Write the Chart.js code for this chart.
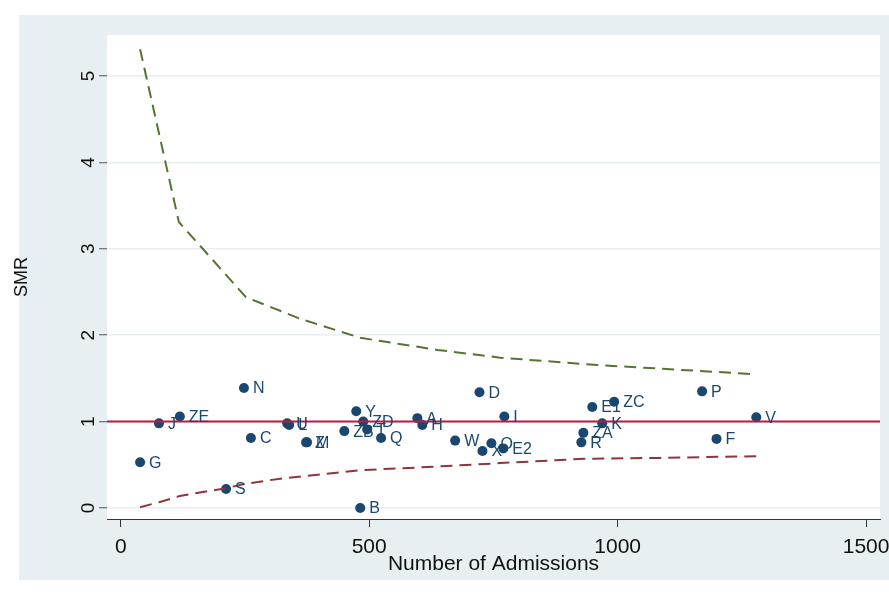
<!DOCTYPE html>
<html>
<head>
<meta charset="utf-8">
<script src="https://cdn.jsdelivr.net/npm/chart.js@4.4.1/dist/chart.umd.min.js"></script>
<style>
  html, body { margin: 0; padding: 0; background: #ffffff; }
  #wrap { width: 889px; height: 592px; }
</style>
</head>
<body>
<div id="wrap"><canvas id="c" width="889" height="592"></canvas></div>
<script>
// ---- data ----
const units = ['G','J','ZE','N','C','S','U','L','M','Z','Y','ZB','ZD','T','Q','B','A','H','W','O','X','E2','D','I','ZA','R','E1','ZC','K','P','F','V'];
const admissions = [39,77,119,248,262,212,335,339,375,373,474,450,488,496,524,482,597,607,673,746,728,770,722,772,931,927,949,993,969,1170,1199,1279];
const smr = [0.53,0.98,1.06,1.39,0.81,0.22,0.98,0.96,0.76,0.76,1.12,0.89,1.00,0.91,0.81,0.00,1.04,0.96,0.78,0.75,0.66,0.69,1.34,1.06,0.87,0.76,1.17,1.23,0.98,1.35,0.80,1.05];

const upperX = [39,117,252,361,482,637,764,945,1273];
const upperY = [5.31,3.31,2.44,2.19,1.97,1.83,1.74,1.66,1.55];

const lowerX = [39,79,119,212,250,321,488,603,764,931,1086,1279];
const lowerY = [0.01,0.07,0.14,0.23,0.28,0.34,0.44,0.47,0.52,0.57,0.58,0.60];

const targetSMR = 1;
const xMin = -27.6, xMax = 1528;
const yMin = -0.127, yMax = 5.474;
const xTicks = [0,500,1000,1500];
const yTicks = [0,1,2,3,4,5];

const xTitle = 'Number of Admissions';
const yTitle = 'SMR';

// ---- build ----
const FONT = '"Liberation Sans", Arial, sans-serif';
const NAVY = '#1a476f';

const pointData = admissions.map((a, i) => ({x: a, y: smr[i]}));
const upperData = upperX.map((a, i) => ({x: a, y: upperY[i]}));
const lowerData = lowerX.map((a, i) => ({x: a, y: lowerY[i]}));
const refData = [{x: xMin, y: targetSMR}, {x: xMax, y: targetSMR}];

const bgPlugin = {
  id: 'bg',
  beforeDraw(chart) {
    const ctx = chart.ctx;
    const a = chart.chartArea;
    ctx.save();
    ctx.fillStyle = '#ffffff';
    ctx.fillRect(0, 0, chart.width, chart.height);
    ctx.fillStyle = '#e8eff2';
    ctx.fillRect(19, 15, chart.width - 19, 565);
    ctx.fillStyle = '#ffffff';
    ctx.fillRect(a.left, a.top, a.right - a.left, a.bottom - a.top);
    ctx.restore();
  }
};

const labelPlugin = {
  id: 'ptlabels',
  afterDatasetsDraw(chart) {
    const meta = chart.getDatasetMeta(3);
    const ctx = chart.ctx;
    ctx.save();
    ctx.font = '16px ' + FONT;
    ctx.fillStyle = NAVY;
    ctx.textAlign = 'left';
    ctx.textBaseline = 'middle';
    meta.data.forEach((el, i) => {
      ctx.fillText(units[i], el.x + 9, el.y + 1);
    });
    ctx.restore();
  }
};

new Chart(document.getElementById('c'), {
  type: 'scatter',
  data: {
    datasets: [
      { type: 'line', data: upperData, borderColor: '#55752f', borderWidth: 2, borderDash: [12, 7],
        pointRadius: 0, fill: false, tension: 0 },
      { type: 'line', data: lowerData, borderColor: '#90353b', borderWidth: 2, borderDash: [12, 7],
        pointRadius: 0, fill: false, tension: 0 },
      { type: 'line', data: refData, borderColor: '#c4163f', borderWidth: 2,
        pointRadius: 0, fill: false, tension: 0 },
      { type: 'scatter', data: pointData, backgroundColor: NAVY, borderWidth: 0,
        pointRadius: 5, pointHoverRadius: 5 }
    ]
  },
  options: {
    responsive: false,
    animation: false,
    devicePixelRatio: 1,
    layout: { padding: { left: 0, top: 35, right: 9, bottom: 15 }, autoPadding: false },
    plugins: { legend: { display: false }, tooltip: { enabled: false }, title: { display: false } },
    scales: {
      x: {
        type: 'linear', min: xMin, max: xMax,
        afterBuildTicks(s) { s.ticks = xTicks.map(v => ({value: v})); },
        afterFit(s) { s.height = 58; s.paddingLeft = 0; s.paddingRight = 0; },
        grid: { drawOnChartArea: false, drawTicks: true, tickLength: 8, tickColor: '#333333', tickWidth: 1 },
        border: { display: true, color: '#333333', width: 1 },
        ticks: { font: { family: FONT, size: 21 }, color: '#111111', padding: 8, maxRotation: 0, minRotation: 0,
                 callback: v => String(v) },
        title: { display: true, text: xTitle, font: { family: FONT, size: 21 }, color: '#111111', padding: { top: 0, bottom: 0 } }
      },
      y: {
        type: 'linear', min: yMin, max: yMax,
        afterBuildTicks(s) { s.ticks = yTicks.map(v => ({value: v})); },
        afterFit(s) { s.width = 107; s.paddingTop = 0; s.paddingBottom = 0; },
        grid: { drawOnChartArea: true, color: '#e6eef1', lineWidth: 1.5, drawTicks: true, tickLength: 8, tickColor: '#555555', tickWidth: 1 },
        border: { display: false },
        ticks: { font: { family: FONT, size: 19 }, color: '#111111', padding: 5, minRotation: 90, maxRotation: 90, crossAlign: 'center',
                 callback: v => String(v) },
        title: { display: true, text: yTitle, font: { family: FONT, size: 18 }, color: '#111111', padding: { top: 11, bottom: 0 } }
      }
    }
  },
  plugins: [bgPlugin, labelPlugin]
});
</script>
</body>
</html>
